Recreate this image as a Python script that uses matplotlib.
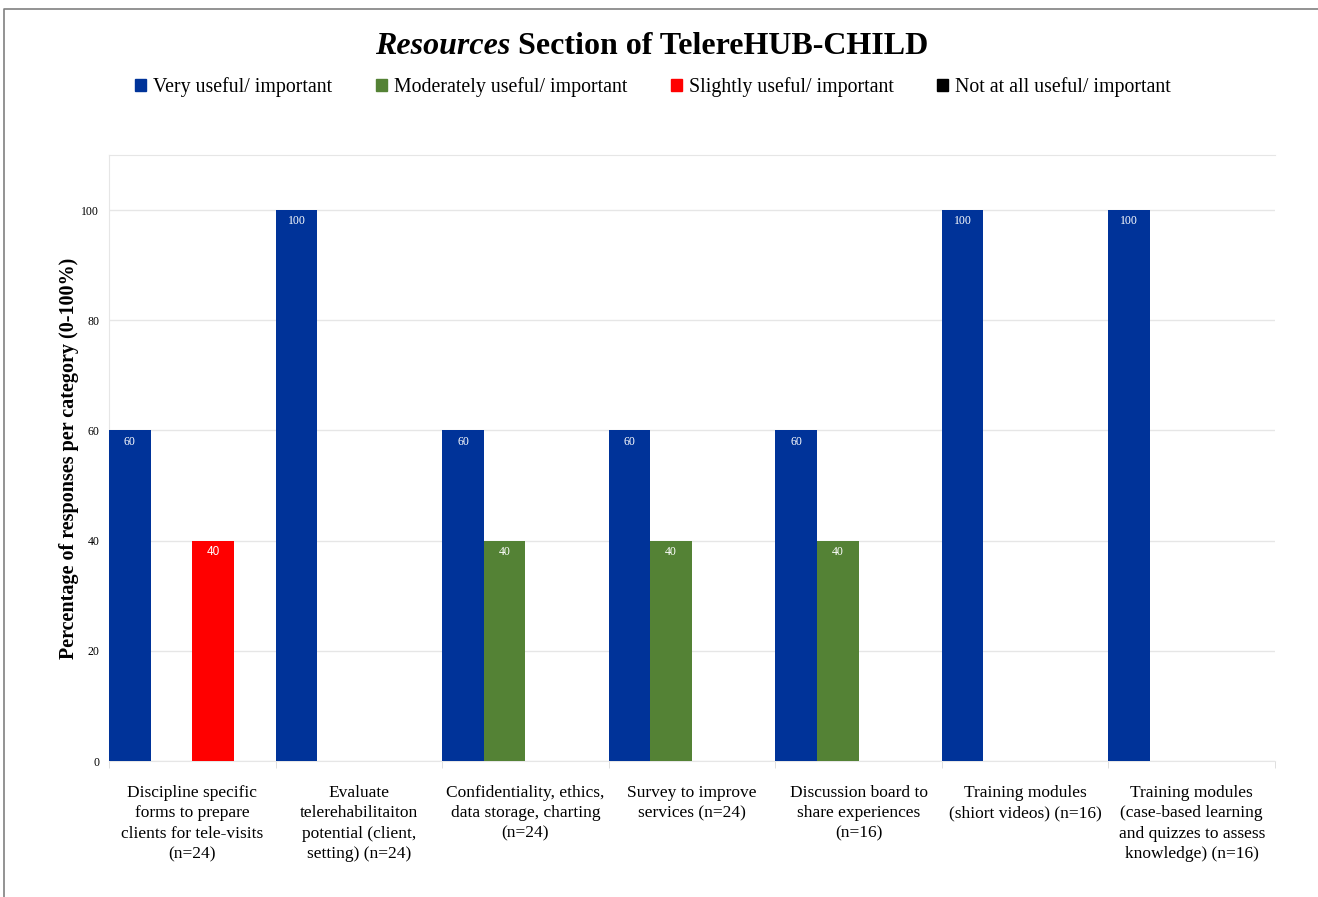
import matplotlib.pyplot as plt
import numpy as np
from matplotlib.patches import Patch
from matplotlib.lines import Line2D

plt.rcParams['font.family'] = ['Liberation Serif', 'DejaVu Serif']

categories = [
    "Discipline specific\nforms to prepare\nclients for tele-visits\n(n=24)",
    "Evaluate\ntelerehabilitaiton\npotential (client,\nsetting) (n=24)",
    "Confidentiality, ethics,\ndata storage, charting\n(n=24)",
    "Survey to improve\nservices (n=24)",
    "Discussion board to\nshare experiences\n(n=16)",
    "Training modules\n(shiort videos) (n=16)",
    "Training modules\n(case-based learning\nand quizzes to assess\nknowledge) (n=16)",
]
series_names = ["Very useful/ important", "Moderately useful/ important",
                "Slightly useful/ important", "Not at all useful/ important"]
very = [60, 100, 60, 60, 60, 100, 100]
moderately = [0, 0, 40, 40, 40, 0, 0]
slightly = [40, 0, 0, 0, 0, 0, 0]
not_at_all = [0, 0, 0, 0, 0, 0, 0]
colors = ['#003399', '#548235', '#FF0000', '#000000']

fig = plt.figure(figsize=(13.18, 8.97), dpi=100)
ax = fig.add_axes([109/1318, 1-761/897, (1275-109)/1318, (761-155)/897])

x = np.arange(len(categories))
w = 0.25
for j, vals in enumerate([very, moderately, slightly, not_at_all]):
    vals = np.array(vals)
    mask = vals > 0
    ax.bar(x[mask] + j*w, vals[mask], width=w, align='edge', color=colors[j], zorder=3)
    for xi, v in zip(x[mask], vals[mask]):
        fam = ['Liberation Sans'] if j == 2 else ['Liberation Serif']
        ax.annotate(str(v), (xi + j*w + w/2, v), xytext=(0, -8), textcoords='offset points',
                    ha='center', va='center', color='white', fontsize=8.5, family=fam, zorder=4)

ax.set_xlim(0, len(categories))
ax.set_ylim(0, 110)
ax.set_yticks(np.arange(0, 101, 20))
ax.tick_params(axis='y', length=0, labelsize=8.5, pad=7)
ax.set_xticks(x + 0.5)
ax.set_xticklabels(categories, fontsize=12.5, linespacing=1.38)
ax.set_xticks(np.arange(len(categories)+1), minor=True)
ax.tick_params(axis='x', which='major', length=0, pad=17)
ax.tick_params(axis='x', which='minor', length=5, color='#d9d9d9')
ax.grid(axis='y', color='#e6e6e6', linewidth=1, zorder=0)
for s in ['top', 'left', 'bottom']:
    ax.spines[s].set_color('#e6e6e6')
ax.spines['right'].set_visible(False)

ax.set_ylabel("Percentage of responses per category (0-100%)", fontsize=14.5,
              fontweight='bold', labelpad=2)

# title with italic first word
fig.canvas.draw()
r = fig.canvas.get_renderer()
t1 = fig.text(0, 1-46/897, "Resources", fontsize=23, fontweight='bold', style='italic', va='center')
t2 = fig.text(0, 1-46/897, " Section of TelereHUB-CHILD", fontsize=23, fontweight='bold', va='center')
w1 = t1.get_window_extent(r).width
w2 = t2.get_window_extent(r).width
x0 = 652 - (w1 + w2)/2
t1.set_x(x0/1318)
t2.set_x((x0 + w1)/1318)

handles = [Patch(color=c) for c in colors]
fig.legend(handles, series_names, loc='center', bbox_to_anchor=(653/1318, 1-87/897), ncol=4,
           frameon=False, fontsize=14.3, handlelength=0.55, handleheight=0.55,
           handletextpad=0.35, columnspacing=2.2)

fig.add_artist(Line2D([4/1318, 4/1318, 1], [0, 1-9/897, 1-9/897], color='#808080', linewidth=1.2))

fig.savefig('out.png', dpi=100)
